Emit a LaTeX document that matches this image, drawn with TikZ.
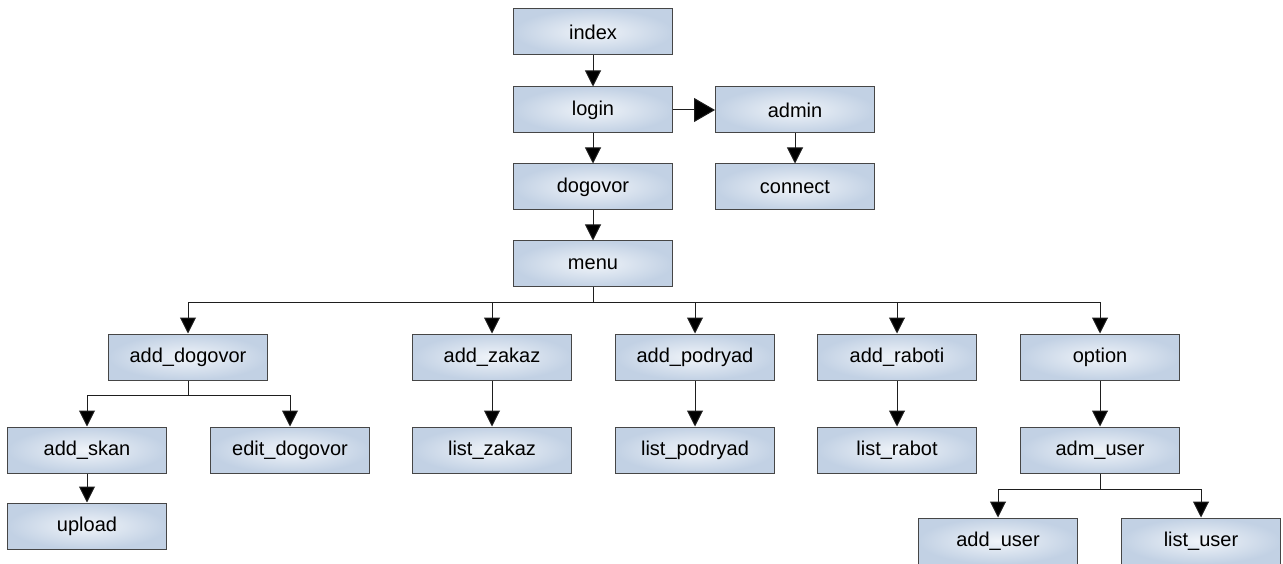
\documentclass[tikz,border=0pt]{standalone}
\usepackage{fontspec}
\setmainfont{Liberation Sans}
\usetikzlibrary{arrows.meta, positioning}
\definecolor{boxin}{RGB}{240, 244, 249}
\definecolor{boxout}{RGB}{194, 209, 228}
\definecolor{edgegray}{RGB}{70, 70, 70}
\definecolor{linegray}{RGB}{30, 30, 30}
\tikzset{
  page/.style={draw=edgegray, line width=1pt, shading=radial, inner color=boxin, outer color=boxout,
    minimum width=159pt, minimum height=46pt, inner sep=0pt, font=\fontsize{20}{24}\selectfont},
  link/.style={draw=linegray, line width=1pt, -{Triangle[length=16pt, width=16pt, fill=black]}},
  biglink/.style={draw=linegray, line width=1pt, -{Triangle[length=21pt, width=24pt, fill=black]}}
}

\begin{document}
\begin{tikzpicture}[x=1pt, y=-1pt]
  \useasboundingbox (0,0) rectangle (1283,564);

  % Top column
  \node[page] (index)   at (593, 32)  {index};
  \node[page] (login)   at (593, 110) {login};
  \node[page] (admin)   at (795, 110) {admin};
  \node[page] (dogovor) at (593, 187) {dogovor};
  \node[page] (connect) at (795, 187) {connect};
  \node[page] (menu)    at (593, 264) {menu};

  % Menu entries
  \node[page] (adddog)  at (188, 357)  {add\_dogovor};
  \node[page] (addzak)  at (492, 357)  {add\_zakaz};
  \node[page] (addpod)  at (695, 357)  {add\_podryad};
  \node[page] (addrab)  at (897, 357)  {add\_raboti};
  \node[page] (option)  at (1100, 357) {option};

  % Second level
  \node[page] (addskan) at (87, 450)   {add\_skan};
  \node[page] (editdog) at (290, 450)  {edit\_dogovor};
  \node[page] (listzak) at (492, 450)  {list\_zakaz};
  \node[page] (listpod) at (695, 450)  {list\_podryad};
  \node[page] (listrab) at (897, 450)  {list\_rabot};
  \node[page] (admuser) at (1100, 450) {adm\_user};

  % Bottom
  \node[page] (upload)   at (87, 526)   {upload};
  \node[page] (adduser)  at (998, 541)  {add\_user};
  \node[page] (listuser) at (1201, 541) {list\_user};

  % Connectors
  \draw[link] (index) -- (login);
  \draw[biglink] (login) -- (admin);
  \draw[link] (admin) -- (connect);
  \draw[link] (login) -- (dogovor);
  \draw[link] (dogovor) -- (menu);

  \foreach \n in {adddog, addzak, addpod, addrab, option}
    \draw[link] (menu.south) -- ++(0,15) -| (\n.north);

  \foreach \n in {addskan, editdog}
    \draw[link] (adddog.south) -- ++(0,15) -| (\n.north);

  \draw[link] (addskan) -- (upload);
  \draw[link] (addzak) -- (listzak);
  \draw[link] (addpod) -- (listpod);
  \draw[link] (addrab) -- (listrab);
  \draw[link] (option) -- (admuser);

  \foreach \n in {adduser, listuser}
    \draw[link] (admuser.south) -- ++(0,16) -| (\n.north);
\end{tikzpicture}
\end{document}
